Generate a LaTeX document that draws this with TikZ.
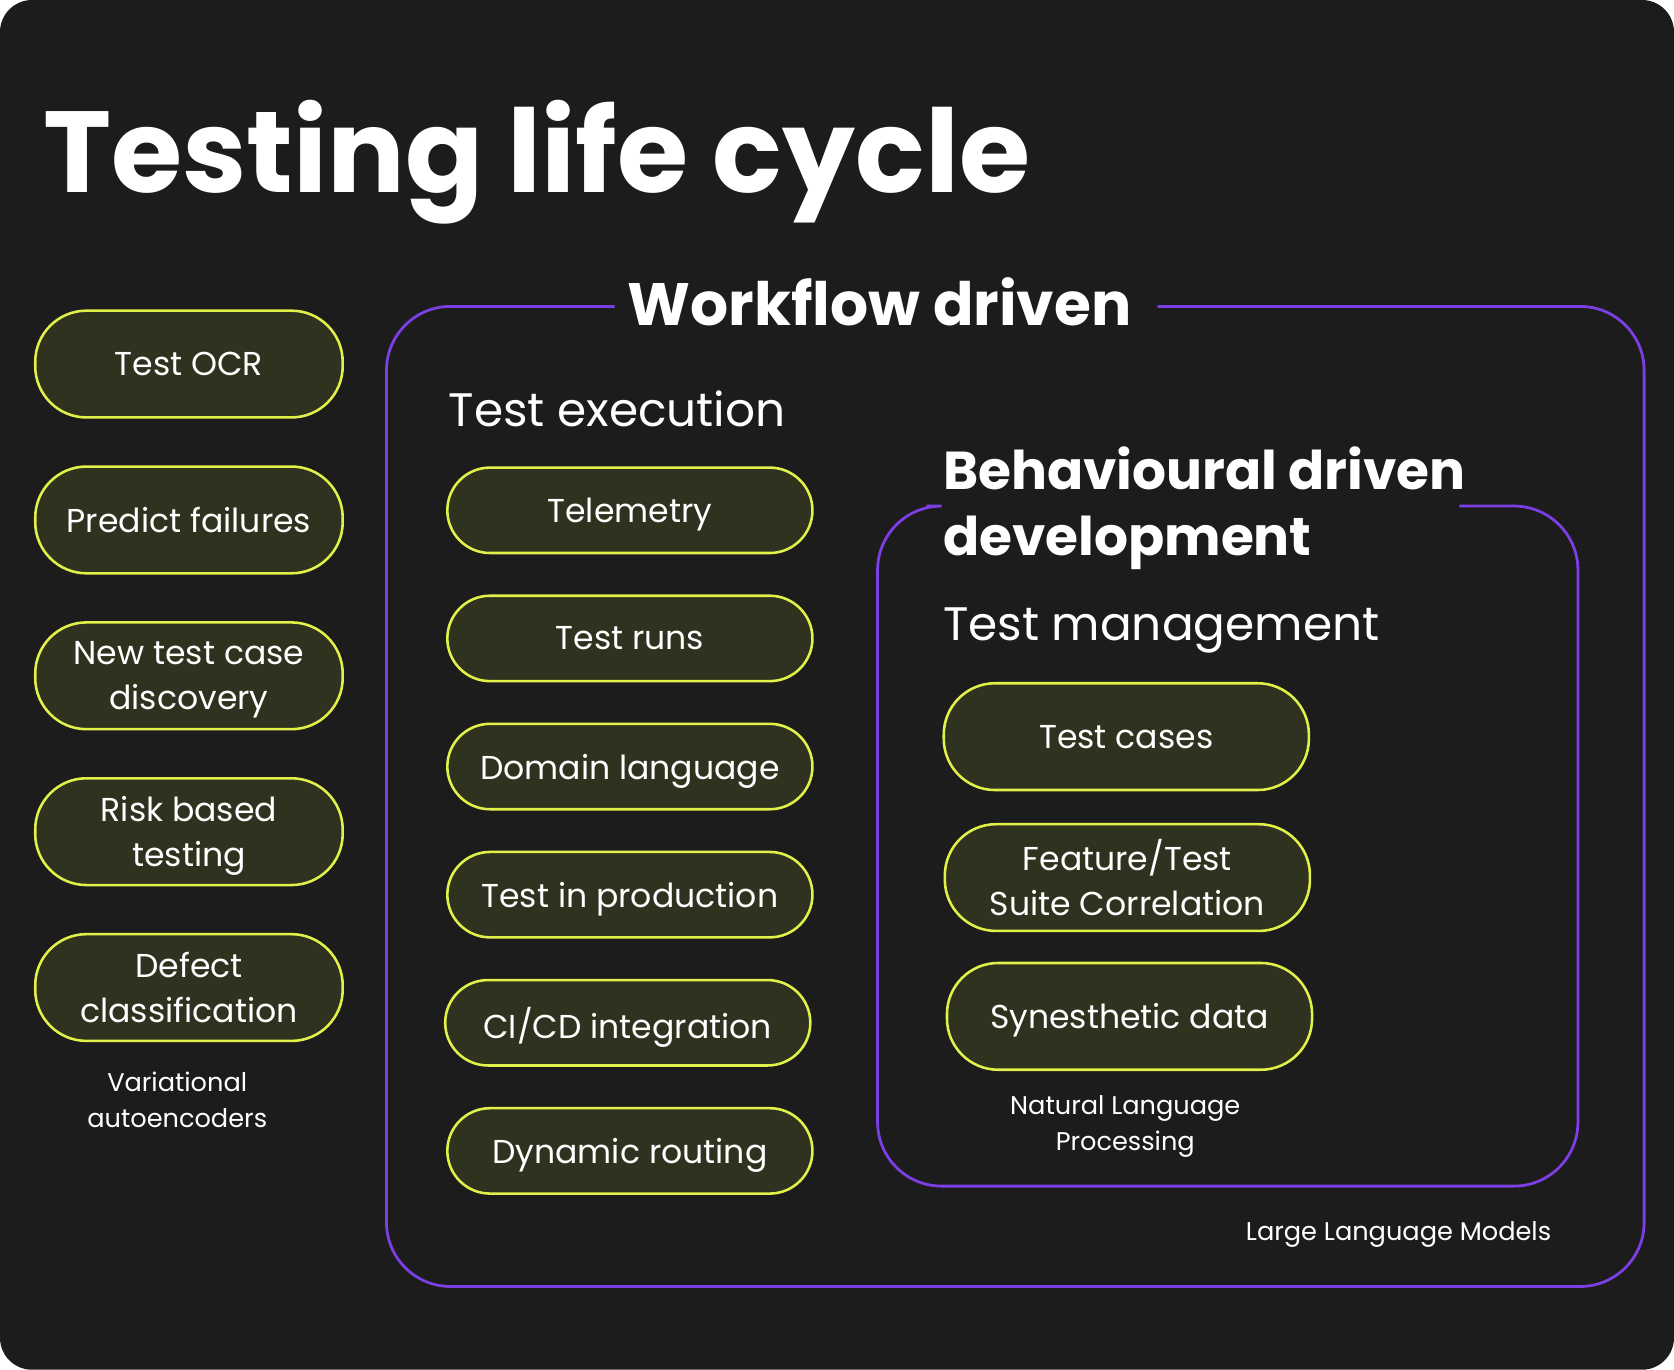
\documentclass[tikz,border=0pt]{standalone}
\usepackage{fontspec}
\setmainfont{Poppins}
\usetikzlibrary{positioning}
\definecolor{bgdark}{HTML}{1C1C1C}
\definecolor{pillfill}{HTML}{2F321F}
\definecolor{pillline}{HTML}{E2F04A}
\definecolor{frame}{HTML}{7B3FE4}
\tikzset{
  pill/.style={rounded corners=24pt, draw=pillline, line width=1.2pt, fill=pillfill,
    text=white, align=center, font=\fontsize{15.5}{21}\selectfont, inner sep=0pt,
    text depth=0pt},
  leftpill/.style={pill, minimum width=144pt, minimum height=50pt},
  midpill/.style={pill, minimum width=171pt, minimum height=40pt, rounded corners=20pt},
  rightpill/.style={pill, minimum width=171pt, minimum height=50pt},
  heading/.style={text=white, anchor=west, inner sep=0pt},
  note/.style={text=white, align=center, font=\fontsize{12}{17}\selectfont},
  frameline/.style={draw=frame, line width=1.3pt, rounded corners=30pt},
}
\begin{document}
\begin{tikzpicture}[x=0.5pt, y=-0.5pt]
\useasboundingbox (0,0) rectangle (1568,1283);
\fill[white] (0,0) rectangle (1568,1283);
\fill[bgdark, rounded corners=15pt] (0,0) rectangle (1568,1283);

% title
\node[heading, font=\fontsize{54}{54}\selectfont\bfseries] (title) at (40,152) {Testing life cycle};

% left column
\node[leftpill] (ocr) at (177,341) {Test OCR};
\node[leftpill] (predict) at (177,487) {Predict failures};
\node[leftpill] (newcase) at (177,633) {New test case\\discovery};
\node[leftpill] (risk) at (177,779) {Risk based\\testing};
\node[leftpill] (defect) at (177,925) {Defect\\classification};
\node[note] (vae) at (166,1030) {Variational\\autoencoders};

% workflow frame
\node[text=white, font=\fontsize{28}{28}\selectfont\bfseries, inner sep=0pt] (workflow) at (824,283) {Workflow driven};
\draw[frameline] (workflow.west) ++(-12,4) -- (362,287) -- (362,1205) -- (1540,1205) -- (1540,287) -- ([xshift=12]workflow.east |- 0,287);
\node[heading, font=\fontsize{22}{22}\selectfont] (exec) at (420,383) {Test execution};
\node[midpill] (telemetry) at (590,478) {Telemetry};
\node[midpill] (runs) at (590,598) {Test runs};
\node[midpill] (domain) at (590,718) {Domain language};
\node[midpill] (prod) at (590,838) {Test in production};
\node[midpill] (cicd) at (588,958) {CI/CD integration};
\node[midpill] (routing) at (590,1078) {Dynamic routing};
\node[note, anchor=east] (llm) at (1460,1156) {Large Language Models};

% behaviour frame
\node[heading, align=left, font=\fontsize{25}{31}\selectfont\bfseries] (bdd) at (883,476) {Behavioural driven\\development};
\draw[frameline] (868,474) -- (822,474) -- (822,1111) -- (1478,1111) -- (1478,474) -- (1367,474);
\node[heading, font=\fontsize{22}{22}\selectfont] (mgmt) at (883,591) {Test management};
\node[rightpill] (cases) at (1055,690) {Test cases};
\node[rightpill] (feature) at (1056,822) {Feature/Test\\Suite Correlation};
\node[rightpill] (synth) at (1058,952) {Synesthetic data};
\node[note] (nlp) at (1054,1055) {Natural Language\\Processing};
\end{tikzpicture}
\end{document}
